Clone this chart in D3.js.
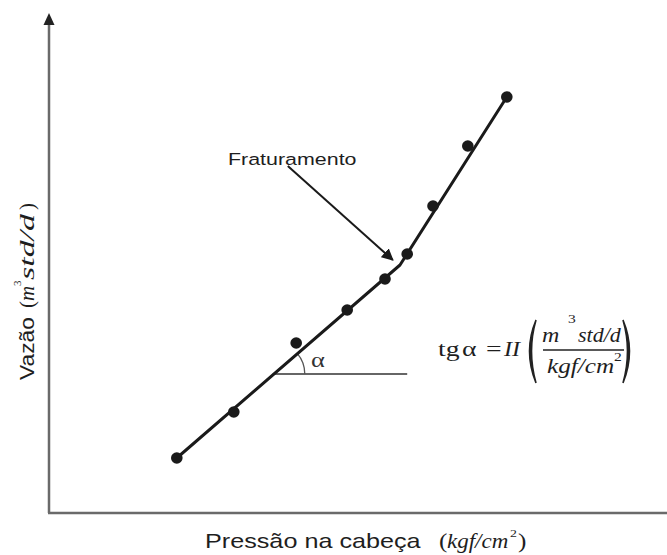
<!DOCTYPE html>
<html>
<head>
<meta charset="utf-8">
<script src="https://cdn.jsdelivr.net/npm/d3@7"></script>
<style>
  html, body { margin: 0; padding: 0; background: #fff; }
  svg { display: block; }
</style>
</head>
<body>
<svg id="chart" width="667" height="555"></svg>
<script>
// ---- data (arbitrary units) ----
const pointX = [2.13, 3.08, 4.12, 4.97, 5.60, 5.97, 6.40, 6.98, 7.63];
const pointY = [1.10, 2.02, 3.40, 4.06, 4.68, 5.18, 6.14, 7.34, 8.32];
const trendX = [2.13, 5.85, 7.63];
const trendY = [1.10, 4.96, 8.32];
const refX = [3.73, 5.97];     // horizontal reference line for the angle
const refY = 2.78;
const annotationLabel = "Fraturamento";
const arrowFrom = [3.98, 6.94];
const arrowTo = [5.73, 5.06];
const xLabelMain = "Pressão na cabeça";
const yLabelMain = "Vazão";

const svg = d3.select("#chart");
const x = d3.scaleLinear().domain([0, 10]).range([49, 649]);
const y = d3.scaleLinear().domain([0, 10]).range([513, 13]);

const axisColor = "#6a6a6a";
const ink = "#1a1a1a";
const txt = "#1e1e1e";
const serif = "'Liberation Serif', 'Times New Roman', serif";
const sans = "'Liberation Sans', Arial, sans-serif";
const SX = 1.26; // horizontal stretch of the original picture

// horizontally stretched text helper
function st(parent, px, py, s, font, size, opts = {}) {
  const g = parent.append("g")
    .attr("transform", `translate(${px},${py}) scale(${opts.sx || SX},1)`);
  const t = g.append("text").attr("x", 0).attr("y", 0)
    .attr("font-family", font).attr("font-size", size).attr("fill", opts.fill || txt)
    .text(s);
  if (opts.italic) t.attr("font-style", "italic");
  return t;
}

const defs = svg.append("defs");
defs.append("marker").attr("id", "arr").attr("viewBox", "0 0 10 10")
  .attr("refX", 9).attr("refY", 5).attr("markerWidth", 6).attr("markerHeight", 6)
  .attr("orient", "auto")
  .append("path").attr("d", "M0,0 L10,5 L0,10 Z").attr("fill", ink);

// ---- axes ----
svg.append("line").attr("x1", x(0)).attr("x2", x(0)).attr("y1", y(0)).attr("y2", 22)
  .attr("stroke", axisColor).attr("stroke-width", 2.5);
svg.append("path").attr("d", `M${x(0)},13 L${x(0)-5.5},25 L${x(0)+5.5},25 Z`).attr("fill", "#222");
svg.append("line").attr("x1", x(0) - 1).attr("x2", 667).attr("y1", y(0)).attr("y2", y(0))
  .attr("stroke", axisColor).attr("stroke-width", 2.5);

// ---- angle reference ----
svg.append("line").attr("x1", x(refX[0])).attr("x2", x(refX[1]))
  .attr("y1", y(refY)).attr("y2", y(refY)).attr("stroke", "#333").attr("stroke-width", 1.5);
const cx = x(refX[0]), cy = y(refY);
const slopeAng = Math.atan2(y(trendY[0]) - y(trendY[1]), x(trendX[1]) - x(trendX[0]));
const r = 32;
svg.append("path")
  .attr("d", `M${cx + r*Math.cos(slopeAng)},${cy - r*Math.sin(slopeAng)} A${r},${r} 0 0 1 ${cx + r},${cy}`)
  .attr("fill", "none").attr("stroke", "#555").attr("stroke-width", 1.3);
st(svg, 311, 367, "α", serif, 21, { fill: "#333" });

// ---- trend line ----
const line = d3.line().x(d => x(d[0])).y(d => y(d[1]));
svg.append("path").datum(d3.zip(trendX, trendY)).attr("d", line)
  .attr("fill", "none").attr("stroke", ink).attr("stroke-width", 3).attr("stroke-linejoin", "round");

// ---- points ----
svg.selectAll("circle.pt").data(d3.zip(pointX, pointY)).join("circle")
  .attr("class", "pt").attr("cx", d => x(d[0])).attr("cy", d => y(d[1])).attr("r", 5.8)
  .attr("fill", ink);

// ---- annotation ----
st(svg, 228, 165, annotationLabel, sans, 17);
svg.append("line").attr("x1", x(arrowFrom[0])).attr("y1", y(arrowFrom[1]))
  .attr("x2", x(arrowTo[0])).attr("y2", y(arrowTo[1]))
  .attr("stroke", ink).attr("stroke-width", 2).attr("marker-end", "url(#arr)");

// ---- formula ----
const f = svg.append("g");
st(f, 438, 356, "tg", serif, 22);
st(f, 462, 356, "α", serif, 22);
st(f, 486, 356, "=", serif, 22);
st(f, 504, 356, "II", serif, 22, { italic: true, sx: 1.1 });
f.append("path").attr("d", "M536,320 Q523,351 536,383 Q527,351 536,320 Z")
  .attr("stroke", "#222").attr("stroke-width", 1.6).attr("fill", "#222");
f.append("path").attr("d", "M623,320 Q636,351 623,383 Q632,351 623,320 Z")
  .attr("stroke", "#222").attr("stroke-width", 1.6).attr("fill", "#222");
st(f, 542, 342, "m", serif, 20, { italic: true, sx: 1.2 });
st(f, 568, 323, "3", serif, 13, { sx: 1.2 });
st(f, 578, 342, "std/d", serif, 20, { italic: true, sx: 1.1 });
f.append("line").attr("x1", 543).attr("x2", 624).attr("y1", 350).attr("y2", 350)
  .attr("stroke", "#222").attr("stroke-width", 1.4);
st(f, 547, 373, "kgf/cm", serif, 21, { italic: true, sx: 1.2 });
st(f, 614, 361, "2", serif, 13, { sx: 1.2 });

// ---- x label ----
const xl = svg.append("g");
st(xl, 205, 548, xLabelMain, sans, 20);
st(xl, 439, 548, "(", serif, 20);
st(xl, 447, 548, "kgf/cm", serif, 20, { italic: true, sx: 1.15 });
st(xl, 510, 537, "2", serif, 11);
st(xl, 518, 548, ")", serif, 20);

// ---- y label (rotated) ----
const yl = svg.append("g").attr("transform", "translate(34,380) rotate(-90)").attr("fill", txt);
yl.append("text").attr("x", 0).attr("y", 0).attr("font-family", sans).attr("font-size", 21)
  .attr("textLength", 63).attr("lengthAdjust", "spacingAndGlyphs").text(yLabelMain);
yl.append("text").attr("x", 72).attr("y", 0).attr("font-family", serif).attr("font-size", 21).text("(");
yl.append("text").attr("x", 79).attr("y", 0).attr("font-family", serif).attr("font-size", 21)
  .attr("font-style", "italic").text("m");
yl.append("text").attr("x", 94).attr("y", -13).attr("font-family", serif).attr("font-size", 11).text("3");
yl.append("text").attr("x", 100).attr("y", 0).attr("font-family", serif).attr("font-size", 22)
  .attr("font-style", "italic").attr("textLength", 66).attr("lengthAdjust", "spacingAndGlyphs").text("std/d");
yl.append("text").attr("x", 170).attr("y", 0).attr("font-family", serif).attr("font-size", 21).text(")");
</script>
</body>
</html>
